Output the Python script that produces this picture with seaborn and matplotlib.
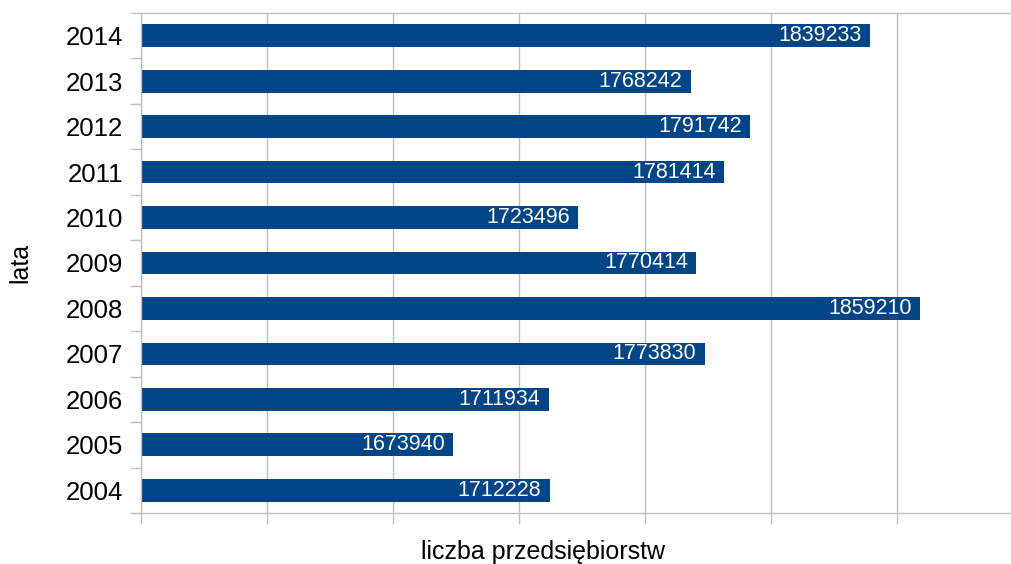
import numpy as np
import pandas as pd
import matplotlib
matplotlib.use("Agg")
import matplotlib.pyplot as plt
import seaborn as sns

years = ["2014", "2013", "2012", "2011", "2010", "2009", "2008", "2007", "2006", "2005", "2004"]
counts = [1839233, 1768242, 1791742, 1781414, 1723496, 1770414, 1859210, 1773830, 1711934, 1673940, 1712228]

df = pd.DataFrame({"lata": years, "liczba": counts})

sns.set_style("white")
plt.rcParams["font.family"] = ["Liberation Sans", "DejaVu Sans"]

fig = plt.figure(figsize=(10.11, 5.64), dpi=100)
ax = fig.add_axes([141 / 1011, 1 - 513 / 564, 869 / 1011, 500 / 564])

sns.barplot(data=df, x="liczba", y="lata", order=years, orient="h",
            color="#004586", width=0.5, saturation=1, linewidth=0, ax=ax)

ax.set_xlim(1550000, 1895000)
ax.set_ylim(10.5, -0.5)

grid_c = "#c0c0c0"
ax.set_xticks(np.arange(1550000, 1900000, 50000))
ax.set_xticklabels([])
ax.tick_params(axis="x", bottom=True, length=8, width=1, color=grid_c, direction="out")
ax.grid(axis="x", color=grid_c, linewidth=1)
ax.set_axisbelow(True)

ax.set_yticks(range(len(years)))
ax.set_yticklabels(years, fontsize=18.5, color="#000000")
ax.tick_params(axis="y", which="major", length=0, pad=13)
ax.set_yticks(np.arange(-0.5, len(years), 1), minor=True)
ax.tick_params(axis="y", which="minor", left=True, length=8, width=1, color=grid_c, direction="out")

for side in ["top", "bottom", "left"]:
    ax.spines[side].set_color(grid_c)
    ax.spines[side].set_linewidth(1)
ax.spines["right"].set_visible(False)

labels = ax.bar_label(ax.containers[0], labels=[str(v) for v in counts],
                      padding=-6, color="white", fontsize=15.5)
for t in labels:
    t.set_ha("right")

ax.set_xlabel("liczba przedsiębiorstw", fontsize=18, color="#000000")
ax.xaxis.set_label_coords((543 - 141) / 869, -39 / 500)
ax.xaxis.label.set_va("center")
ax.set_ylabel("lata", fontsize=18, color="#000000")
ax.yaxis.set_label_coords(-121 / 869, 0.5)
ax.yaxis.label.set_va("center")

fig.savefig("out.png", dpi=100)
